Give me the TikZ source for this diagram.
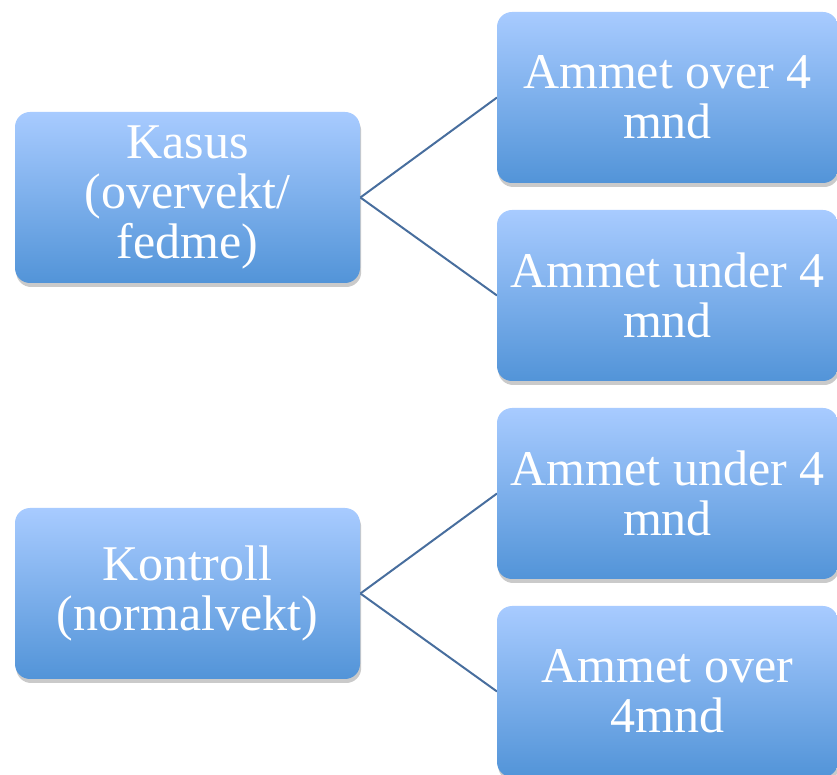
\documentclass[tikz,border=0pt]{standalone}
\usepackage{fontspec}
\setmainfont{Liberation Serif}
\usetikzlibrary{shadows}
\definecolor{boxtop}{RGB}{168,203,255}
\definecolor{boxbot}{RGB}{82,148,216}
\definecolor{linkcol}{RGB}{72,110,158}
\tikzset{
	groupbox/.style={rectangle, rounded corners=7.5pt, top color=boxtop, bottom color=boxbot,
		draw=none, text=white, align=center, font=\fontsize{25}{25}\selectfont,
		minimum width=172.5pt, minimum height=85.5pt, inner sep=0pt,
		drop shadow={shadow xshift=0.6pt, shadow yshift=-2pt, opacity=0.35, fill=black!60}},
	subbox/.style={groupbox, minimum width=170.5pt},
	link/.style={draw=linkcol, line width=1pt}
}

\begin{document}
\begin{tikzpicture}[x=0.5pt, y=-0.5pt]
			%%%%% START %%%%%
			\useasboundingbox (0, 0) rectangle (837, 775);
			
			\node[groupbox] (kasus) at (187.5, 197.5) {Kasus\\(overvekt/\\fedme)};
			\node[groupbox] (kontroll) at (187.5, 593.5) {Kontroll\\(normalvekt)};
			
			\draw[link] (kasus.east) -- (497, 97.5);
			\draw[link] (kasus.east) -- (497, 295.5);
			\draw[link] (kontroll.east) -- (497, 493.5);
			\draw[link] (kontroll.east) -- (497, 691.5);
			
			\node[subbox] (overA) at (667.5, 97.5) {Ammet over 4\\mnd};
			\node[subbox] (underA) at (667.5, 295.5) {Ammet under 4\\mnd};
			\node[subbox] (underB) at (667.5, 493.5) {Ammet under 4\\mnd};
			\node[subbox] (overB) at (667.5, 691.5) {Ammet over\\4mnd};
			
			%%%%% END %%%%%
		\end{tikzpicture}
\end{document}
